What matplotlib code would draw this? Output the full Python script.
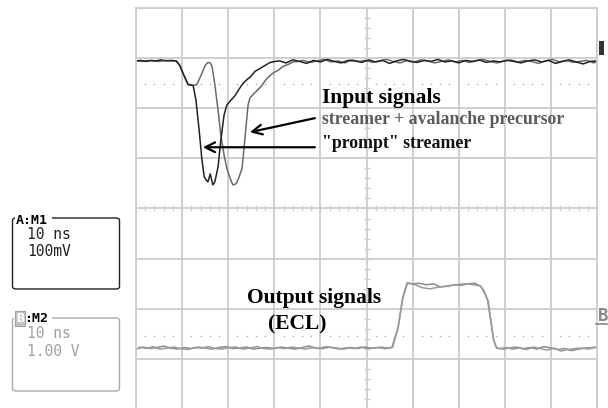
import numpy as np
import matplotlib.pyplot as plt
from matplotlib.patches import FancyBboxPatch, Rectangle

# Datos leidos de la pantalla (tiempo en ns, amplitud en divisiones)
# canal A: "prompt" streamer
a1_t = [0, 1.1, 2.2, 3.3, 4.3, 5.4, 6.5, 7.6, 8.7, 9.5, 10.4, 11.3, 12.4, 13.0, 13.7, 14.3, 14.8,
        15.2, 15.6, 16.1, 16.5, 16.7, 17.1, 17.8, 18.4, 19.1, 19.7, 20.6, 21.5, 22.3, 23.2, 24.1,
        24.9, 25.8, 26.9, 28.0, 29.1, 30.2, 31.2,
        32.5, 34, 35.5, 37, 38.5, 40, 41.5, 43, 44.5, 46, 47.5, 49, 50.5, 52, 53.5, 55, 56.5, 58,
        59.5, 61, 62.5, 64, 65.5, 67, 68.5, 70, 71.5, 73, 74.5, 76, 77.5, 79, 80.5, 82, 83.5, 85,
        86.5, 88, 89.5, 91, 92.5, 94, 95.5, 97, 98.5, 100]
a1_v = [2.94, 2.95, 2.93, 2.95, 2.94, 2.96, 2.94, 2.95, 2.94, 2.85, 2.65, 2.47, 2.45, 2.16, 1.56,
        0.97, 0.63, 0.57, 0.53, 0.69, 0.53, 0.47, 0.53, 0.83, 1.36, 1.86, 2.06, 2.16, 2.25, 2.37,
        2.49, 2.57, 2.63, 2.73, 2.79, 2.85, 2.91, 2.93, 2.94,
        2.90, 2.96, 2.93, 2.89, 2.95, 2.92, 2.97, 2.93, 2.90, 2.95, 2.94, 2.91, 2.96, 2.92, 2.95,
        2.89, 2.94, 2.97, 2.93, 2.91, 2.95, 2.93, 2.97, 2.92, 2.94, 2.90, 2.95, 2.93, 2.96, 2.91,
        2.94, 2.92, 2.95, 2.93, 2.90, 2.94, 2.96, 2.92, 2.95, 2.89, 2.93, 2.96, 2.92, 2.88, 2.93, 2.94]

# canal A: streamer + avalanche precursor
a2_t = [0, 1.3, 2.5, 3.8, 5.0, 6.3, 7.5, 8.7, 9.5, 10.4, 11.3, 12.4, 13.2, 14.1, 15.0, 15.6, 16.1,
        16.5, 17.1, 17.8, 18.4, 19.1, 19.7, 20.4, 21.0, 21.7, 22.3, 23.0, 23.4, 23.9, 24.3, 24.7,
        25.6, 26.5, 27.3, 28.2, 29.1, 29.9, 30.8, 31.9, 33.0, 34.1, 35.1,
        36.3, 37.8, 39.3, 40.8, 42.3, 43.8, 45.3, 46.8, 48.3, 49.8, 51.3, 52.8, 54.3, 55.8, 57.3,
        58.8, 60.3, 61.8, 63.3, 64.8, 66.3, 67.8, 69.3, 70.8, 72.3, 73.8, 75.3, 76.8, 78.3, 79.8,
        81.3, 82.8, 84.3, 85.8, 87.3, 88.8, 90.3, 91.8, 93.3, 94.8, 96.3, 97.8, 99.3, 100]
a2_v = [2.94, 2.93, 2.95, 2.94, 2.93, 2.95, 2.94, 2.94, 2.85, 2.65, 2.47, 2.45, 2.47, 2.65, 2.85,
        2.91, 2.90, 2.83, 2.47, 1.96, 1.46, 1.07, 0.80, 0.61, 0.47, 0.49, 0.61, 0.80, 1.17, 1.66,
        2.06, 2.20, 2.29, 2.37, 2.45, 2.57, 2.65, 2.71, 2.75, 2.83, 2.87, 2.92, 2.93,
        2.95, 2.91, 2.94, 2.97, 2.92, 2.94, 2.90, 2.96, 2.93, 2.95, 2.91, 2.94, 2.97, 2.93, 2.90,
        2.95, 2.92, 2.96, 2.94, 2.90, 2.93, 2.96, 2.92, 2.95, 2.91, 2.94, 2.97, 2.93, 2.90, 2.94,
        2.96, 2.92, 2.95, 2.93, 2.89, 2.94, 2.97, 2.92, 2.95, 2.91, 2.93, 2.95, 2.90, 2.93]

# canal B: salidas ECL
b1_t = [0, 1.5, 3, 4.5, 6, 7.5, 9, 10.5, 12, 13.5, 15, 16.5, 18, 19.5, 21, 22.5, 24, 25.5, 27,
        28.5, 30, 31.5, 33, 34.5, 36, 37.5, 39, 40.5, 42, 43.5, 45, 46.5, 48, 49.5, 51, 52.5, 54,
        55.5, 56.8, 57.8, 58.8, 60.0, 61.5, 63, 64.5, 66, 67.5, 69, 70.5, 72, 73.5, 74.8, 75.6,
        76.4, 77.0, 77.6, 78.2, 79.5, 81, 82.5, 84, 85.5, 87, 88.5, 90, 91.5, 93, 94.5, 96, 97.5,
        99, 100]
b1_v = [-2.80, -2.76, -2.79, -2.77, -2.74, -2.78, -2.80, -2.77, -2.79, -2.76,
        -2.78, -2.80, -2.77, -2.75, -2.79, -2.78, -2.76, -2.80, -2.78, -2.77,
        -2.79, -2.76, -2.78, -2.80, -2.77, -2.74, -2.78, -2.79, -2.76, -2.78,
        -2.80, -2.77, -2.79, -2.76, -2.78, -2.77, -2.79, -2.77,
        -2.40, -1.82, -1.48, -1.50,
        -1.49, -1.52, -1.50, -1.56, -1.55, -1.52, -1.53, -1.50, -1.49,
        -1.55, -1.68, -1.85, -2.25, -2.62, -2.78,
        -2.80, -2.78, -2.76, -2.79, -2.77, -2.80, -2.75, -2.78, -2.81, -2.79, -2.83, -2.80,
        -2.78, -2.77, -2.76]
b2_t = [0.7, 2.2, 3.7, 5.2, 6.7, 8.2, 9.7, 11.2, 12.7, 14.2, 15.7, 17.2, 18.7, 20.2, 21.7, 23.2,
        24.7, 26.2, 27.7, 29.2, 30.7, 32.2, 33.7, 35.2, 36.7, 38.2, 39.7, 41.2, 42.7, 44.2, 45.7,
        47.2, 48.7, 50.2, 51.7, 53.2, 54.7, 55.7, 56.9, 57.9, 58.9, 60.6, 62.2, 63.8, 65.4, 67.0,
        68.6, 70.2, 71.8, 73.2, 74.6, 75.4, 76.2, 76.9, 77.5, 78.1, 78.8, 80.2, 81.7, 83.2, 84.7,
        86.2, 87.7, 89.2, 90.7, 92.2, 93.7, 95.2, 96.7, 98.2, 99.4, 100]
b2_v = [-2.76, -2.79, -2.75, -2.80, -2.78, -2.76, -2.79, -2.81, -2.77, -2.78,
        -2.75, -2.79, -2.80, -2.77, -2.76, -2.80, -2.78, -2.75, -2.79, -2.80,
        -2.77, -2.79, -2.76, -2.78, -2.80, -2.77, -2.79, -2.75, -2.78, -2.80,
        -2.77, -2.79, -2.76, -2.79, -2.78, -2.76, -2.78, -2.76,
        -2.35, -1.75, -1.49, -1.52,
        -1.58, -1.60, -1.57, -1.55, -1.53, -1.51, -1.50, -1.52, -1.54,
        -1.62, -1.80, -2.20, -2.60, -2.76, -2.79,
        -2.77, -2.80, -2.78, -2.81, -2.76, -2.79, -2.82, -2.78, -2.84, -2.81, -2.79, -2.78,
        -2.80, -2.77, -2.78]

nivel_a = 2.49   # linea punteada canal A
nivel_b = -2.54  # linea punteada canal B

W, H = 608, 408
fig = plt.figure(figsize=(W / 100, H / 100), dpi=100)
ax = fig.add_axes([136 / W, 1 - 409.3 / H, 461 / W, 401.6 / H])
ax.set_xlim(0, 100)
ax.set_ylim(-4, 4)

# reticula del osciloscopio
gris = '#cdcdcd'
ax.set_xticks(np.arange(0, 101, 10))
ax.set_yticks(np.arange(-4, 5, 1))
ax.tick_params(length=0, labelbottom=False, labelleft=False)
ax.grid(True, color=gris, lw=1.3)
ax.set_axisbelow(True)
for s in ax.spines.values():
    s.set_color(gris)
    s.set_linewidth(1.3)

sub_t = np.arange(0, 100.1, 2)
sub_v = np.arange(-4, 4.01, 0.2)
ax.plot(sub_t, np.zeros_like(sub_t), ls='none', marker='|', ms=5, mew=1, color=gris, zorder=1)
ax.plot(np.full_like(sub_v, 50), sub_v, ls='none', marker='_', ms=5, mew=1, color=gris, zorder=1)

puntos = np.array([t for t in sub_t if t % 10 != 0])
ax.plot(puntos, np.full_like(puntos, nivel_a), ls='none', marker='s', ms=1.0, mew=0,
        color='#b0b0b0')
ax.plot(puntos, np.full_like(puntos, nivel_b), ls='none', marker='s', ms=1.0, mew=0,
        color='#b0b0b0')

# trazas
ax.plot(b1_t, b1_v, color='#8c8c8c', lw=1.1)
ax.plot(b2_t, b2_v, color='#9a9a9a', lw=1.1)
ax.plot(a2_t, a2_v, color='#6a6a6a', lw=1.1)
ax.plot(a1_t, a1_v, color='#222222', lw=1.1)

# anotaciones
serif = 'Liberation Serif'
ax.text(40.3, 2.10, 'Input signals', family=serif, weight='bold', fontsize=15.5, color='black')
ax.text(40.3, 1.68, 'streamer + avalanche precursor', family=serif, weight='bold',
        fontsize=12.8, color='#5a5a5a')
ax.text(40.3, 1.20, '"prompt" streamer', family=serif, weight='bold', fontsize=12.8,
        color='#111111')
ax.text(24.1, -1.88, 'Output signals', family=serif, weight='bold', fontsize=15.5)
ax.text(28.6, -2.42, '(ECL)', family=serif, weight='bold', fontsize=15.5)

flecha = dict(arrowstyle='->,head_length=0.7,head_width=0.35', lw=1.6, color='black',
              shrinkA=0, shrinkB=0)
ax.annotate('', xy=(24.7, 1.52), xytext=(38.8, 1.80), arrowprops=flecha)
ax.annotate('', xy=(14.5, 1.22), xytext=(38.8, 1.22), arrowprops=flecha)

# cajas de canal a la izquierda
def fy(y):
    return 1 - y / H

mono = 'DejaVu Sans Mono'
caja_a = FancyBboxPatch((12.5 / W, fy(289)), 107 / W, 71 / H,
                        boxstyle='round,pad=0,rounding_size=0.006',
                        transform=fig.transFigure, fill=False, ec='#222222', lw=1.0)
caja_b = FancyBboxPatch((12.5 / W, fy(391)), 107 / W, 73 / H,
                        boxstyle='round,pad=0,rounding_size=0.006',
                        transform=fig.transFigure, fill=False, ec='#a8a8a8', lw=1.0)
# huecos en el borde superior para los titulos
hueco_a = Rectangle((15 / W, fy(220.5)), 37 / W, 5 / H, transform=fig.transFigure,
                    fc='white', ec='none', zorder=1.5)
hueco_b = Rectangle((14 / W, fy(320.5)), 38 / W, 5 / H, transform=fig.transFigure,
                    fc='white', ec='none', zorder=1.5)
fig.patches.extend([caja_a, caja_b, hueco_a, hueco_b])

fig.text(16 / W, fy(224), 'A:M1', family=mono, weight='bold', fontsize=9.5, color='black')
fig.text(27 / W, fy(239), '10 ns', family=mono, fontsize=10.5, color='#222222')
fig.text(27 / W, fy(256), '100mV', family=mono, fontsize=10.5, color='#222222')

fig.text(16 / W, fy(322), 'B', family=mono, weight='bold', fontsize=9.5, color='white',
         bbox=dict(fc='#c4c4c4', ec='#a0a0a0', pad=0.6, lw=0.8))
fig.text(24 / W, fy(322), ':M2', family=mono, weight='bold', fontsize=9.5, color='black')
fig.text(27 / W, fy(338.5), '10 ns', family=mono, fontsize=10.5, color='#a0a0a0')
fig.text(27 / W, fy(356), '1.00 V', family=mono, fontsize=10.5, color='#a0a0a0')

# marcadores de nivel a la derecha
fig.patches.append(Rectangle((599 / W, fy(55)), 5 / W, 14 / H, transform=fig.transFigure,
                             fc='#333333', ec='none'))
fig.text(598 / W, fy(321), 'B', family=mono, weight='bold', fontsize=12.5, color='#8a8a8a')
fig.lines.append(plt.Line2D([596 / W, 608 / W], [fy(324), fy(324)], transform=fig.transFigure,
                            color='#8a8a8a', lw=1.2))

fig.savefig('out.png', dpi=100, facecolor='white')
